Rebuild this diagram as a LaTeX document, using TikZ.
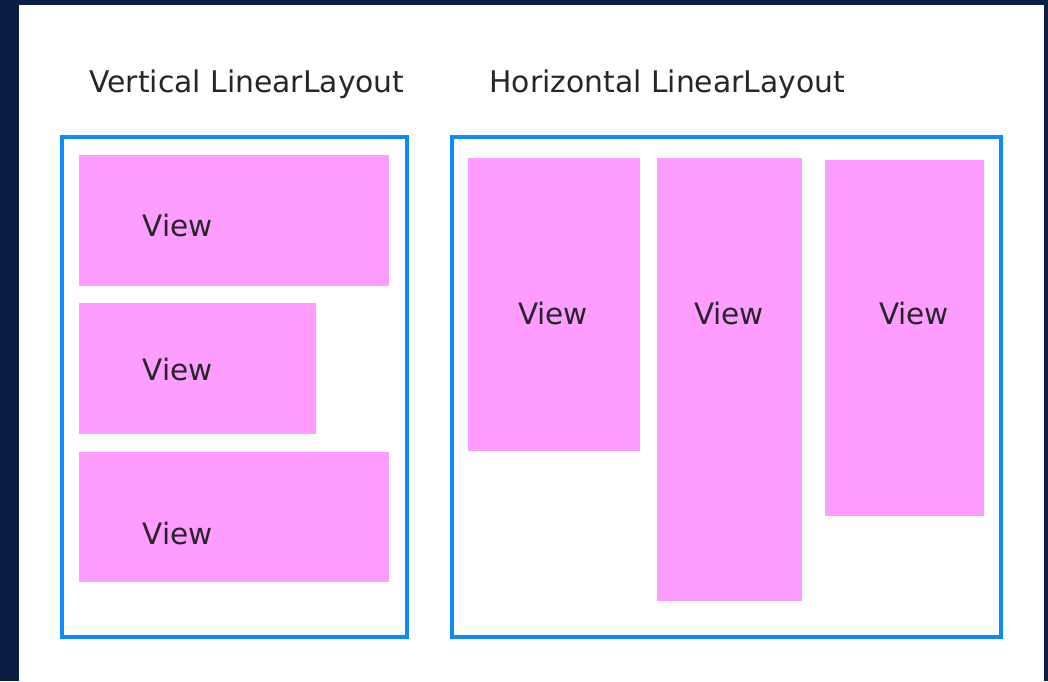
\documentclass[tikz,border=0pt]{standalone}
\usepackage{fontspec}
\setmainfont{DejaVu Sans}
\definecolor{navy}{HTML}{0B1E46}
\definecolor{viewpink}{HTML}{FF9CFF}
\definecolor{layoutblue}{HTML}{0A8CFF}
\tikzset{
	layoutbox/.style={draw=layoutblue, line width=4pt},
	viewbox/.style={fill=viewpink},
	viewlabel/.style={font=\fontsize{29.5}{34}\selectfont, text=black!85},
	titlelabel/.style={anchor=west, font=\fontsize{29.8}{34}\selectfont, text=black!85}
}

\begin{document}
\begin{tikzpicture}[x=1pt, y=-1pt]
			%%%%% START %%%%%
			\useasboundingbox (0, 0) rectangle (1048, 681);
			\fill[navy] (0, 0) rectangle (1048, 681);
			\fill[white] (19, 5) rectangle (1044, 681);
			
			\node[titlelabel] (vtitle) at (86, 84) {Vertical LinearLayout};
			\node[titlelabel] (htitle) at (486, 84) {Horizontal LinearLayout};
			
			% vertical layout
			\draw[layoutbox] (62, 137) rectangle (407, 637);
			\fill[viewbox] (79, 155) rectangle (389, 286);
			\fill[viewbox] (79, 303) rectangle (316, 434);
			\fill[viewbox] (79, 452) rectangle (389, 582);
			\node[viewlabel] (v1) at (178, 225) {View};
			\node[viewlabel] (v2) at (178, 369) {View};
			\node[viewlabel] (v3) at (178, 533) {View};
			
			% horizontal layout
			\draw[layoutbox] (452, 137) rectangle (1001, 637);
			\fill[viewbox] (468, 158) rectangle (640, 451);
			\fill[viewbox] (657, 158) rectangle (802, 601);
			\fill[viewbox] (825, 160) rectangle (984, 516);
			\node[viewlabel] (h1) at (553, 313) {View};
			\node[viewlabel] (h2) at (729, 313) {View};
			\node[viewlabel] (h3) at (914, 313) {View};
			%%%%% END %%%%%
\end{tikzpicture}
\end{document}
